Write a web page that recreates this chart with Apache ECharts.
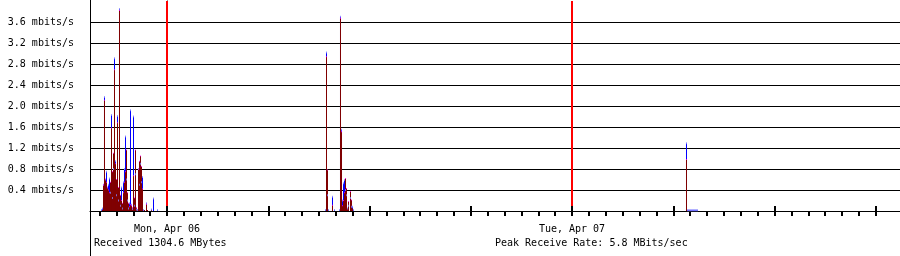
<!DOCTYPE html>
<html>
<head>
<meta charset="utf-8">
<script src="https://cdn.jsdelivr.net/npm/echarts@6/dist/echarts.min.js"></script>
<style>
html,body{margin:0;padding:0;background:#fff;}
#c{width:900px;height:256px;}
</style>
</head>
<body>
<div id="c"></div>
<script>
// sample times: hours relative to Mon, Apr 06 00:00
const times = [
  -3.881,-3.822,-3.763,-3.704,-3.644,-3.585,-3.526,-3.467,-3.407,-3.348,
  -3.289,-3.230,-3.170,-3.111,-3.052,-2.993,-2.933,-2.874,-2.815,-2.756,
  -2.696,-2.637,-2.578,-2.519,-2.459,-2.400,-2.341,-2.281,-2.222,-2.163,
  -2.104,-2.044,-1.985,-1.926,-1.867,-1.807,-1.748,-1.689,-1.630,-1.570,
  -1.511,-1.452,-1.393,-1.333,-1.215,-1.156,-0.919,-0.800,-0.563,
  9.393,9.452,9.511,9.570,9.807,9.926,10.222,10.281,10.341,10.400,
  10.459,10.519,10.578,10.637,10.696,10.756,10.874,10.933,10.993,11.052,
  30.785,30.844,30.904,30.963,31.022,31.081,31.141,31.200,31.259,31.319,31.378,31.437
];
// received rate (mbits/s)
const inRate = [
  0,0.02,0.5,2.11,0.6,0.55,0.45,0.4,0.35,0.55,
  1.58,0.75,1.1,2.69,0.9,0.6,1.68,0.45,3.82,0.3,
  0.2,0.15,0.35,0.55,0.75,1.16,0.35,0.15,0.08,0.12,
  0.1,0.06,0.67,0.25,1.16,0.06,0.03,0.8,0.95,1.05,
  0.85,0.42,0,0.02,0.13,0.02,0.02,0,0,
  0,2.94,0.78,0,0.11,0,0,3.67,1.51,0.1,
  0.2,0.35,0.62,0.43,0.05,0.18,0.37,0.21,0.05,0,
  0.98,0,0,0,0,0,0,0,0,0,0,0
];
// sent rate (mbits/s)
const outRate = [
  0.02,0.05,0.5,2.17,0.6,0.75,0.45,0.5,0.62,0.35,
  1.83,0.25,0.8,2.91,0.95,0.3,1.81,0.2,3.85,0.1,
  0.45,0.05,0.55,0.8,1.42,0.6,0.2,0.05,0.15,1.92,
  0.12,0.04,1.80,0.1,0.7,0.03,0.02,0.8,0.5,0.9,
  0.55,0.65,0.02,0,0.15,0,0.03,0.24,0.02,
  0.02,3.02,0.3,0.02,0.27,0.02,0.02,3.70,1.55,0.2,
  0.53,0.59,0.4,0.3,0.05,0.1,0.25,0.08,0.08,0.02,
  1.29,0.015,0.015,0.015,0.015,0.015,0.015,0.015,0.015,0.015,0.015,0.015
];
const hourTicks = [-4,-3,-2,-1,0,1,2,3,4,5,6,7,8,9,10,11,12,13,14,15,16,17,18,19,20,21,22,23,24,25,26,27,28,29,30,31,32,33,34,35,36,37,38,39,40,41,42];
const majorTicks = [0,6,12,18,24,30,36,42];
const dayTicks = [0,24];
const dayLabels = ['Mon, Apr 06','Tue, Apr 07'];
const dayBoundaries = [0,24];
const footerLeft = 'Received 1304.6 MBytes';
const footerRight = 'Peak Receive Rate: 5.8 MBits/sec';

const FONT = 'DejaVu Sans Mono';
const pairs = (arr) => times.map((t,i)=>[t, arr[i]]);
const tipPairs = (arr) => times.map((t,i)=>[t, arr[i]]).filter(p=>p[1]>0.001);

const chart = echarts.init(document.getElementById('c'), null, {renderer:'canvas'});
chart.setOption({
  animation:false,
  backgroundColor:'#ffffff',
  grid:{left:90,right:0,top:1,bottom:45,containLabel:false},
  xAxis:[{
    type:'value', min:-4.563, max:43.437, position:'bottom',
    axisLine:{show:true,lineStyle:{color:'#000',width:1}},
    axisTick:{show:true,customValues:hourTicks,length:5,lineStyle:{color:'#000',width:2}},
    axisLabel:{show:true,customValues:dayTicks,margin:13,fontFamily:FONT,fontSize:10,color:'#000',
      formatter:(v)=>{const i=dayTicks.indexOf(v);return i>=0?dayLabels[i]:'';}},
    splitLine:{show:false}
  },{
    type:'value', min:-4.563, max:43.437, position:'bottom', z:10,
    axisLine:{show:false},
    axisTick:{show:true,inside:true,customValues:majorTicks,length:5,lineStyle:{color:'#000',width:2}},
    axisLabel:{show:false},
    splitLine:{show:false}
  }],
  yAxis:{
    type:'value', min:0, max:4.0, interval:0.4,
    axisLine:{show:true,lineStyle:{color:'#000',width:1}},
    axisTick:{show:false},
    axisLabel:{margin:16,fontFamily:FONT,fontSize:10,color:'#000',showMinLabel:false,showMaxLabel:false,
      formatter:(v)=>v.toFixed(1)+' mbits/s'},
    splitLine:{show:true,showMinLine:false,showMaxLine:false,lineStyle:{color:'#000',width:1}}
  },
  series:[{
    type:'bar', name:'out', data:pairs(outRate), barWidth:1, barGap:'-100%',
    itemStyle:{color:'#0000ff'}, silent:true,
    markLine:{silent:true,symbol:'none',label:{show:false},
      lineStyle:{color:'#ff0000',width:2,type:'solid'},
      data:dayBoundaries.map(d=>({xAxis:d}))}
  },{
    type:'bar', name:'in', data:pairs(inRate), barWidth:1, barGap:'-100%',
    itemStyle:{color:'#800000'}, silent:true
  },{
    type:'scatter', data:tipPairs(outRate), symbol:'rect', symbolSize:[1,2],
    itemStyle:{color:'#8080ff'}, silent:true, z:3
  },{
    type:'scatter', data:tipPairs(inRate).filter(p=>p[1]>0.05), symbol:'rect', symbolSize:[1,1],
    itemStyle:{color:'#ff00ff'}, silent:true, z:3
  }],
  graphic:[
    {type:'line',shape:{x1:90.5,y1:0,x2:90.5,y2:256},style:{stroke:'#000',lineWidth:1},silent:true,z:5},
    {type:'text',x:94,y:243,style:{text:footerLeft,font:'10px "DejaVu Sans Mono"',fill:'#000',textVerticalAlign:'middle'},silent:true},
    {type:'text',x:495,y:243,style:{text:footerRight,font:'10px "DejaVu Sans Mono"',fill:'#000',textVerticalAlign:'middle'},silent:true}
  ]
});
</script>
</body>
</html>
